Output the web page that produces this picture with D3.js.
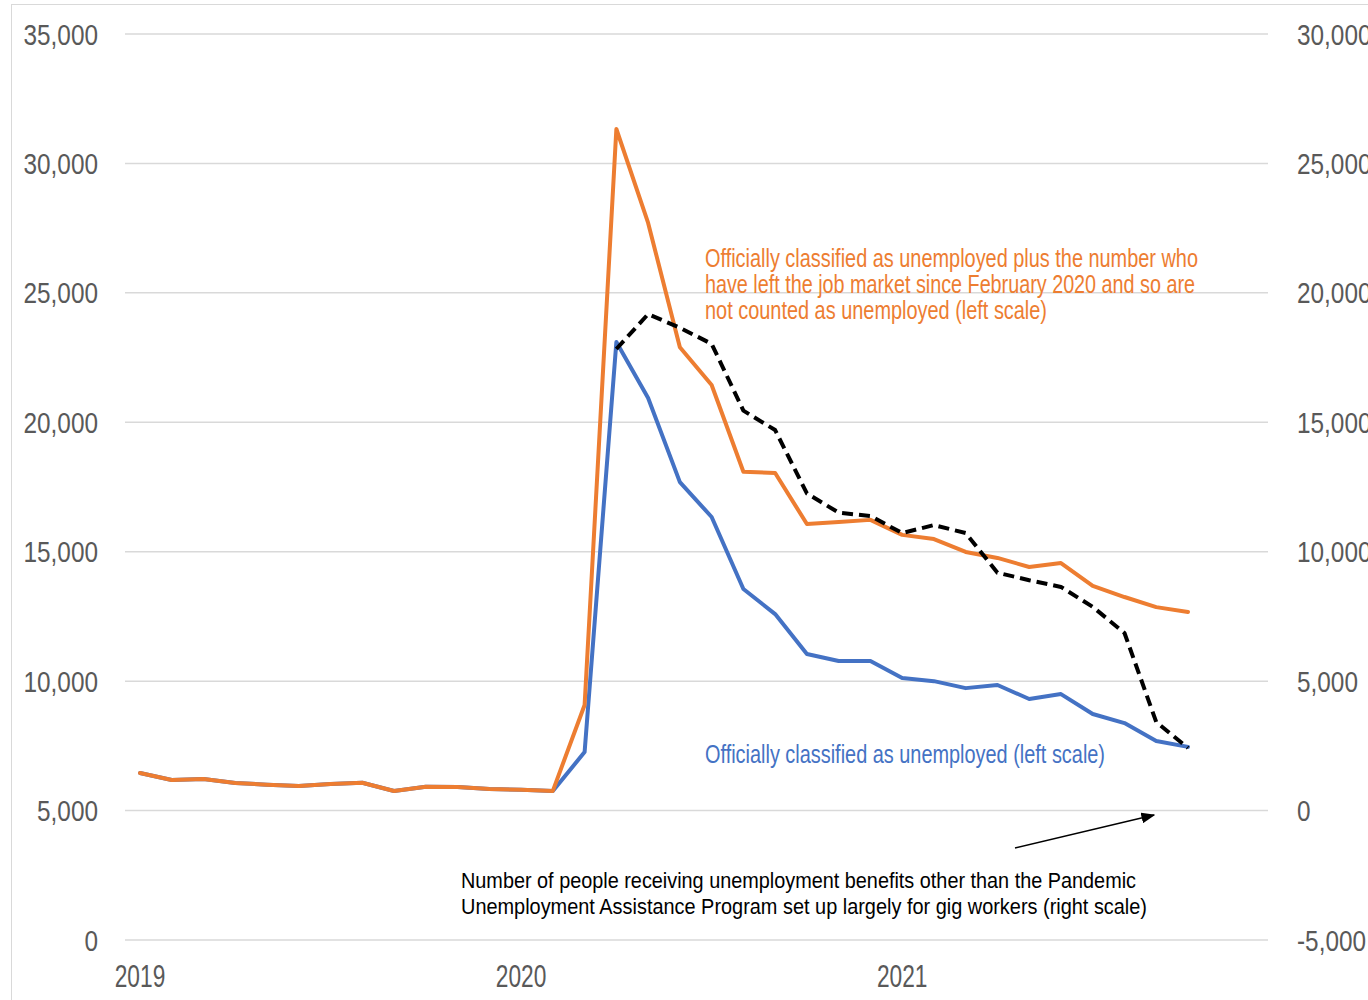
<!DOCTYPE html>
<html>
<head>
<meta charset="utf-8">
<script src="https://cdn.jsdelivr.net/npm/d3@7"></script>
<style>
  html, body { margin: 0; padding: 0; background: #fff; }
  svg { display: block; font-family: "Liberation Sans", Arial, sans-serif; }
</style>
</head>
<body>
<svg id="chart" width="1368" height="1000"></svg>
<script>
// Monthly categories, Jan 2019 – Oct 2021
const months = [
  "2019-01","2019-02","2019-03","2019-04","2019-05","2019-06","2019-07","2019-08","2019-09","2019-10","2019-11","2019-12",
  "2020-01","2020-02","2020-03","2020-04","2020-05","2020-06","2020-07","2020-08","2020-09","2020-10","2020-11","2020-12",
  "2021-01","2021-02","2021-03","2021-04","2021-05","2021-06","2021-07","2021-08","2021-09","2021-10"
];

// Officially unemployed (thousands, left scale)
const unemployed = [
  6450, 6180, 6220, 6065, 6000, 5950, 6030, 6075, 5755, 5920, 5910, 5830,
  5800, 5760, 7260, 23100, 20940, 17690, 16340, 13560, 12590, 11050, 10780, 10780,
  10120, 10000, 9730, 9850, 9310, 9500, 8730, 8380, 7690, 7460
];

// Unemployed plus those who left the job market since Feb 2020 (thousands, left scale)
const unemployedPlusLeft = [
  6450, 6180, 6220, 6065, 6000, 5950, 6030, 6075, 5755, 5920, 5910, 5830,
  5800, 5760, 9080, 31330, 27700, 22900, 21440, 18090, 18040, 16070, 16150, 16230,
  15650, 15490, 14990, 14760, 14410, 14560, 13680, 13250, 12860, 12670
];

// Benefit recipients excluding PUA (thousands, right scale), from Apr 2020
const benefitMonths = months.slice(15);
const benefitRecipients = [
  17830, 19180, 18650, 18030, 15450, 14700, 12250, 11510, 11380, 10720,
  11030, 10720, 9190, 8900, 8640, 7870, 6860, 3420, 2420
];

const leftTicks = [0, 5000, 10000, 15000, 20000, 25000, 30000, 35000];
const rightTicks = [-5000, 0, 5000, 10000, 15000, 20000, 25000, 30000];
const yearTicks = ["2019-01", "2020-01", "2021-01"];
const yearLabels = ["2019", "2020", "2021"];

const ORANGE = "#ED7D31", BLUE = "#4472C4", GREY = "#595959", GRID = "#d9d9d9";

const svg = d3.select("#chart");

// Outer chart frame
svg.append("rect")
  .attr("x", 11.5).attr("y", 4.5).attr("width", 1500).attr("height", 1200)
  .attr("fill", "none").attr("stroke", GRID).attr("stroke-width", 1);

const x = d3.scalePoint().domain(months).range([140, 1188]);
const yL = d3.scaleLinear().domain([0, 35000]).range([940, 34]);
const yR = d3.scaleLinear().domain([-5000, 30000]).range([940, 34]);

// Thousands separator with a plain hyphen for negatives
const fmt = v => d3.format(",")(v).replace("\u2212", "-");

// Gridlines
svg.append("g").selectAll("line").data(leftTicks).join("line")
  .attr("x1", 125).attr("x2", 1268)
  .attr("y1", d => yL(d)).attr("y2", d => yL(d))
  .attr("stroke", GRID).attr("stroke-width", 1.5);

// Scaled text helper (labels are horizontally condensed)
function label(g, px, py, str, size, sx, anchor, color) {
  return g.append("text")
    .attr("transform", `translate(${px},${py}) scale(${sx},1)`)
    .attr("text-anchor", anchor)
    .attr("font-size", size)
    .attr("fill", color)
    .text(str);
}

// Left axis labels
const gl = svg.append("g");
leftTicks.forEach(t => label(gl, 98, yL(t) + 10.5, fmt(t), 29, 0.84, "end", GREY));

// Right axis labels
const gr = svg.append("g");
rightTicks.forEach(t => label(gr, 1297, yR(t) + 10.5, fmt(t), 29, 0.84, "start", GREY));

// Year labels
const gx = svg.append("g");
yearTicks.forEach((m, i) => label(gx, x(m), 987, yearLabels[i], 30.7, 0.74, "middle", GREY));

// Series lines
const lineL = d3.line().x((d, i) => x(months[i])).y(d => yL(d));
const lineR = d3.line().x((d, i) => x(benefitMonths[i])).y(d => yR(d));

svg.append("path").datum(unemployed)
  .attr("d", lineL).attr("fill", "none")
  .attr("stroke", BLUE).attr("stroke-width", 4)
  .attr("stroke-linejoin", "round").attr("stroke-linecap", "round");

svg.append("path").datum(unemployedPlusLeft)
  .attr("d", lineL).attr("fill", "none")
  .attr("stroke", ORANGE).attr("stroke-width", 4)
  .attr("stroke-linejoin", "round").attr("stroke-linecap", "round");

svg.append("path").datum(benefitRecipients)
  .attr("d", lineR).attr("fill", "none")
  .attr("stroke", "#000").attr("stroke-width", 4)
  .attr("stroke-dasharray", "11,6")
  .attr("stroke-linejoin", "round");

// Annotations
function para(lines, px, baselines, size, lengths, color) {
  const g = svg.append("g");
  lines.forEach((s, i) => {
    g.append("text")
      .attr("x", px).attr("y", baselines[i])
      .attr("font-size", size).attr("fill", color)
      .attr("textLength", lengths[i]).attr("lengthAdjust", "spacingAndGlyphs")
      .text(s);
  });
}

para([
  "Officially classified as unemployed plus the number who",
  "have left the job market since February 2020 and so are",
  "not counted as unemployed (left scale)"
], 705, [267, 293, 319], 25, [493, 490, 342], ORANGE);

para(["Officially classified as unemployed (left scale)"], 705, [763], 25, [400], BLUE);

para([
  "Number of people receiving unemployment benefits other than the Pandemic",
  "Unemployment Assistance Program set up largely for gig workers (right scale)"
], 461, [888, 914], 21.5, [675, 686], "#000");

// Arrow pointing to the dashed series
svg.append("defs").append("marker")
  .attr("id", "arrowhead").attr("viewBox", "0 0 10 10")
  .attr("refX", 9).attr("refY", 5)
  .attr("markerWidth", 14).attr("markerHeight", 11)
  .attr("markerUnits", "userSpaceOnUse")
  .attr("orient", "auto")
  .attr("preserveAspectRatio", "none")
  .append("path").attr("d", "M0,0 L10,5 L0,10 Z").attr("fill", "#000");

svg.append("line")
  .attr("x1", 1015).attr("y1", 848).attr("x2", 1154).attr("y2", 815)
  .attr("stroke", "#000").attr("stroke-width", 1.5)
  .attr("marker-end", "url(#arrowhead)");
</script>
</body>
</html>
